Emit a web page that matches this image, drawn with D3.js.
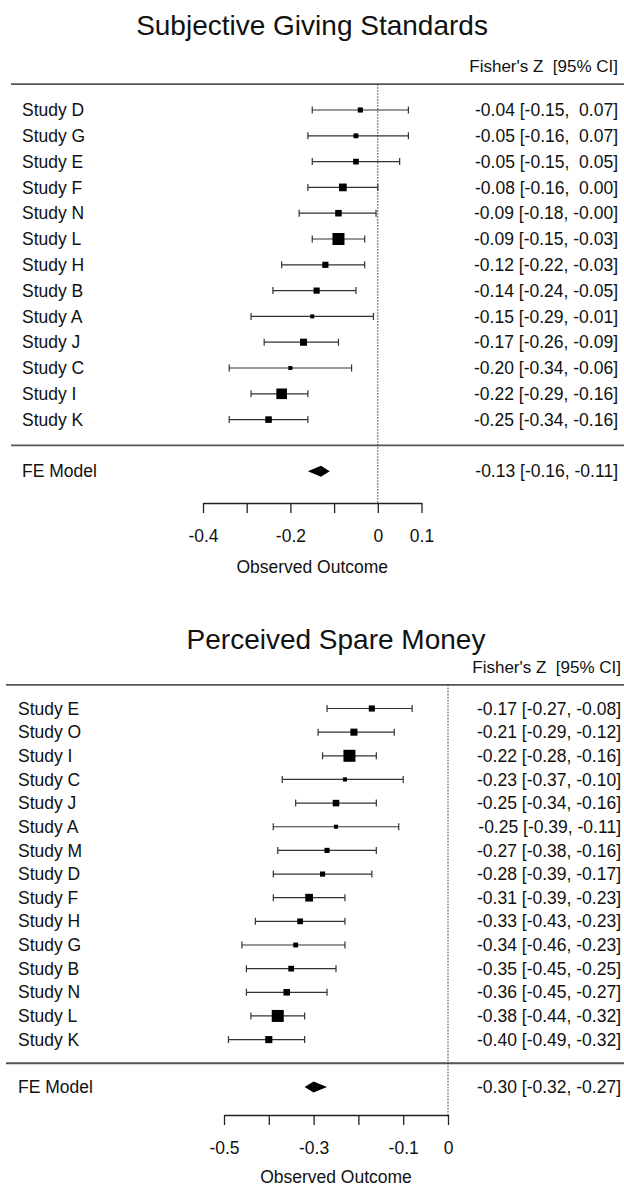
<!DOCTYPE html>
<html lang="en">
<head>
<meta charset="utf-8">
<title>Forest plots</title>
<script type="text/javascript" src="https://d3js.org/d3.v7.min.js"></script>
<style>
body { margin: 0; background: #fff; }
svg text {
	font-family: "Liberation Sans", Arial, Helvetica, sans-serif;
	fill: #111;
	white-space: pre;
}
.sep { stroke: #555; stroke-width: 1.8; }
.ref { stroke: #333; stroke-width: 1; stroke-dasharray: 1.5,1.5; }
.ci { stroke: #333; stroke-width: 1.2; fill: none; }
.axis path, .axis line { stroke: #222; stroke-width: 1.3; }
.axis text { font-size: 17.5px; fill: #111; }
</style>
</head>
<body>
<div id="chart"></div>
<script type="text/javascript">

// Subjective Giving Standards
var sgsStudies = ["Study D", "Study G", "Study E", "Study F", "Study N", "Study L", "Study H",
                  "Study B", "Study A", "Study J", "Study C", "Study I", "Study K"];
var sgsEst   = [-0.04, -0.05, -0.05, -0.08, -0.09, -0.09, -0.12, -0.14, -0.15, -0.17, -0.20, -0.22, -0.25];
var sgsLower = [-0.15, -0.16, -0.15, -0.16, -0.18, -0.15, -0.22, -0.24, -0.29, -0.26, -0.34, -0.29, -0.34];
var sgsUpper = [ 0.07,  0.07,  0.05,  0.00, -0.004, -0.03, -0.03, -0.05, -0.01, -0.09, -0.06, -0.16, -0.16];
var sgsWeight = [5.1, 4.6, 6.1, 9.5, 7.5, 16.9, 6.8, 6.8, 3.1, 8.4, 3.1, 14.5, 7.5];
var sgsModel = [-0.13, -0.16, -0.11];
var sgsTicks = [-0.4, -0.3, -0.2, -0.1, 0, 0.1];
var sgsTickLabels = ["-0.4", "", "-0.2", "", "0", "0.1"];

// Perceived Spare Money
var psmStudies = ["Study E", "Study O", "Study I", "Study C", "Study J", "Study A", "Study M", "Study D",
                  "Study F", "Study H", "Study G", "Study B", "Study N", "Study L", "Study K"];
var psmEst   = [-0.17, -0.21, -0.22, -0.23, -0.25, -0.25, -0.27, -0.28, -0.31, -0.33, -0.34, -0.35, -0.36, -0.38, -0.40];
var psmLower = [-0.27, -0.29, -0.28, -0.37, -0.34, -0.39, -0.38, -0.39, -0.39, -0.43, -0.46, -0.45, -0.45, -0.44, -0.49];
var psmUpper = [-0.08, -0.12, -0.16, -0.10, -0.16, -0.11, -0.16, -0.17, -0.23, -0.23, -0.23, -0.25, -0.27, -0.32, -0.32];
var psmWeight = [5.9, 7.3, 14.7, 2.9, 6.5, 2.7, 4.4, 4.4, 8.3, 5.3, 4.0, 5.3, 6.5, 14.7, 7.3];
var psmModel = [-0.30, -0.32, -0.27];
var psmTicks = [-0.5, -0.4, -0.3, -0.2, -0.1, 0];
var psmTickLabels = ["-0.5", "", "-0.3", "", "-0.1", "0"];

var w = 624;
var h = 1189;

var svg = d3.select("#chart")
            .append("svg")
            .attr("width", w)
            .attr("height", h);

// number formatting like R: width 5, two decimals
function num(v) {
	var s = v.toFixed(2);
	while (s.length < 5) s = " " + s;
	return s;
}

function drawPanel(p) {
	var n = p.studies.length;
	var g = svg.append("g");

	var x = d3.scaleLinear().domain(d3.extent(p.ticks)).range(p.xRange);
	var y = d3.scaleLinear().domain([0, n - 1]).range([p.firstRow, p.firstRow + (n - 1) * p.rowStep]);
	var size = d3.scaleLinear().domain(d3.extent(p.weight)).range([4, 12]);

	g.append("text")
		.attr("x", p.titleX)
		.attr("y", p.titleY)
		.attr("text-anchor", "middle")
		.style("font-size", "28px")
		.text(p.title);

	g.append("text")
		.attr("x", p.rightX)
		.attr("y", y(-1) - 18)
		.attr("dy", "0.35em")
		.attr("text-anchor", "end")
		.style("font-size", "17px")
		.text("Fisher's Z  [95% CI]");

	// separators
	g.append("line").attr("class", "sep")
		.attr("x1", p.lineX0).attr("x2", w)
		.attr("y1", y(-1)).attr("y2", y(-1));
	g.append("line").attr("class", "sep")
		.attr("x1", p.lineX0).attr("x2", w)
		.attr("y1", y(n)).attr("y2", y(n));

	// reference line at zero
	g.append("line").attr("class", "ref")
		.attr("x1", x(0)).attr("x2", x(0))
		.attr("y1", y(-1)).attr("y2", p.axisY);

	var rows = g.selectAll("g.row")
		.data(p.studies)
		.enter()
		.append("g")
		.attr("class", "row");

	rows.append("text")
		.attr("x", p.labelX)
		.attr("y", function(d, i) { return y(i); })
		.attr("dy", "0.35em")
		.style("font-size", "17.5px")
		.text(function(d) { return d; });

	rows.append("text")
		.attr("x", p.rightX)
		.attr("y", function(d, i) { return y(i); })
		.attr("dy", "0.35em")
		.attr("text-anchor", "end")
		.style("font-size", "17.5px")
		.text(function(d, i) {
			return num(p.est[i]) + " [" + num(p.lower[i]) + ", " + num(p.upper[i]) + "]";
		});

	rows.append("path")
		.attr("class", "ci")
		.attr("d", function(d, i) {
			var yy = y(i), a = x(p.lower[i]), b = x(p.upper[i]);
			return "M" + a + "," + yy + "H" + b +
			       "M" + a + "," + (yy - 3.5) + "V" + (yy + 3.5) +
			       "M" + b + "," + (yy - 3.5) + "V" + (yy + 3.5);
		});

	rows.append("rect")
		.attr("x", function(d, i) { return x(p.est[i]) - size(p.weight[i]) / 2; })
		.attr("y", function(d, i) { return y(i) - size(p.weight[i]) / 2; })
		.attr("width", function(d, i) { return size(p.weight[i]); })
		.attr("height", function(d, i) { return size(p.weight[i]); })
		.attr("fill", "#000");

	// summary
	var fy = y(n + 1);
	g.append("text")
		.attr("x", p.labelX)
		.attr("y", fy)
		.attr("dy", "0.35em")
		.style("font-size", "17.5px")
		.text("FE Model");
	g.append("text")
		.attr("x", p.rightX)
		.attr("y", fy)
		.attr("dy", "0.35em")
		.attr("text-anchor", "end")
		.style("font-size", "17.5px")
		.text(num(p.model[0]) + " [" + num(p.model[1]) + ", " + num(p.model[2]) + "]");
	g.append("path")
		.attr("d", "M" + x(p.model[1]) + "," + fy +
		           "L" + x(p.model[0]) + "," + (fy - 5.5) +
		           "L" + x(p.model[2]) + "," + fy +
		           "L" + x(p.model[0]) + "," + (fy + 5.5) + "Z")
		.attr("fill", "#000");

	// axis
	g.append("g")
		.attr("class", "axis")
		.attr("transform", "translate(0," + p.axisY + ")")
		.call(d3.axisBottom(x)
			.tickValues(p.ticks)
			.tickFormat(function(d, i) { return p.tickLabels[i]; })
			.tickSize(10)
			.tickSizeOuter(0)
			.tickPadding(17));

	g.append("text")
		.attr("x", x(d3.mean(d3.extent(p.ticks))))
		.attr("y", p.axisTitleY)
		.attr("text-anchor", "middle")
		.style("font-size", "17.5px")
		.text("Observed Outcome");
}

drawPanel({
	title: "Subjective Giving Standards",
	studies: sgsStudies, est: sgsEst, lower: sgsLower, upper: sgsUpper,
	weight: sgsWeight, model: sgsModel, ticks: sgsTicks, tickLabels: sgsTickLabels,
	xRange: [203, 421.5],
	titleX: 312, titleY: 35,
	rightX: 618, labelX: 22, lineX0: 11,
	firstRow: 110, rowStep: 25.8,
	axisY: 503, axisTitleY: 573
});

drawPanel({
	title: "Perceived Spare Money",
	studies: psmStudies, est: psmEst, lower: psmLower, upper: psmUpper,
	weight: psmWeight, model: psmModel, ticks: psmTicks, tickLabels: psmTickLabels,
	xRange: [224, 448],
	titleX: 336, titleY: 649,
	rightX: 621, labelX: 18, lineX0: 6,
	firstRow: 708.5, rowStep: 23.65,
	axisY: 1115, axisTitleY: 1183
});

</script>
</body>
</html>
